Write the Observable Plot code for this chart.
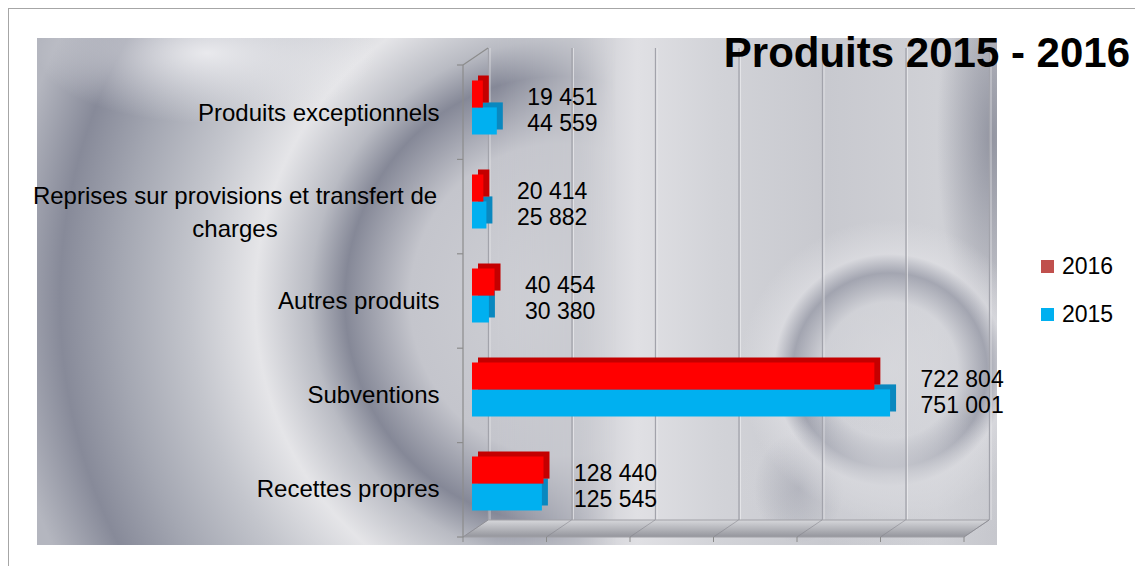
<!DOCTYPE html>
<html>
<head>
<meta charset="utf-8">
<script src="https://cdn.jsdelivr.net/npm/d3@7"></script>
<script src="https://cdn.jsdelivr.net/npm/@observablehq/plot@0.6"></script>
<style>
  body { margin: 0; background: #fff; }
  #wrap { position: relative; width: 1135px; height: 566px; overflow: hidden; font-family: "Liberation Sans", Arial, sans-serif; }
  #frameTop { position: absolute; left: 8px; top: 8px; width: 1127px; height: 1px; background: #a6a6a6; }
  #frameLeft { position: absolute; left: 8px; top: 8px; width: 1px; height: 558px; background: #a6a6a6; }
  .bg { position: absolute; left: 37px; top: 38px; width: 960px; height: 507px; }
  #bgRight {
    background:
      radial-gradient(ellipse 160px 70px at 853px 440px, rgba(212,213,218,0.75) 0%, rgba(212,213,218,0) 100%),
      radial-gradient(circle at 853px 332px, rgba(222,222,226,0.55) 0px, rgba(216,217,222,0.45) 68px, rgba(138,141,156,0.62) 97px, rgba(228,228,232,0.55) 116px, rgba(208,209,214,0) 150px),
      radial-gradient(ellipse 55px 190px at 955px 100px, rgba(125,128,143,0.7) 0%, rgba(125,128,143,0) 100%),
      radial-gradient(ellipse 45px 55px at 762px 450px, rgba(130,133,148,0.5) 0%, rgba(130,133,148,0) 100%),
      linear-gradient(to right, #c9cad0 0px, #c9cad0 540px, #e0e0e4 600px, #d2d3d8 680px, #c8c9cf 790px, #d0d1d6 900px, #c6c7cd 960px);
  }
  #bgLeft {
    background:
      radial-gradient(ellipse 170px 70px at 170px 15px, rgba(240,240,243,0.9) 0%, rgba(240,240,243,0) 100%),
      radial-gradient(ellipse 500px 520px at 523px 262px, #d0d1d6 0%, #c4c5cc 30%, #858897 43%, #b9bbc3 50%, #e5e5e8 61%, #c3c5cc 74%, #a4a7b2 88%, #878a99 100%, #b4b6bf 112%);
    -webkit-mask-image: linear-gradient(to right, #000 0px, #000 460px, transparent 580px);
    mask-image: linear-gradient(to right, #000 0px, #000 460px, transparent 580px);
  }
  #chart { position: absolute; left: 0; top: 0; }
  #title { position: absolute; right: 5px; top: 32px; font-weight: bold; font-size: 42px; line-height: 42px; color: #000; white-space: nowrap; }
  #legend { position: absolute; left: 1041px; top: 252px; font-size: 23px; color: #000; }
  .item { display: flex; align-items: center; height: 28px; margin-bottom: 20px; }
  .sw { width: 13px; height: 13px; margin-right: 8px; }
</style>
</head>
<body>
<div id="wrap">
  <div id="frameTop"></div>
  <div id="frameLeft"></div>
  <div id="bgRight" class="bg"></div>
  <div id="bgLeft" class="bg"></div>
  <div id="chart"></div>
  <div id="title">Produits 2015 - 2016</div>
  <div id="legend"></div>
</div>
<script>
// ---- data ----
const categories = ["Produits exceptionnels", "Reprises sur provisions et transfert de charges", "Autres produits", "Subventions", "Recettes propres"];
const categoryLabels = ["Produits exceptionnels", "Reprises sur provisions et transfert de\ncharges", "Autres produits", "Subventions", "Recettes propres"];
const values2016 = [19451, 20414, 40454, 722804, 128440];
const values2015 = [44559, 25882, 30380, 751001, 125545];
const seriesNames = ["2016", "2015"];
const seriesColors = ["#ff0000", "#00b0f0"];
const legendColors = ["#c0504d", "#00b0f0"];
const sideColors = ["#c40000", "#0a88bf"];
const xTicks = [0, 150000, 300000, 450000, 600000, 750000, 900000];

const rows2016 = categories.map((c, i) => ({category: c, value: values2016[i], labelX: Math.max(values2016[i], values2015[i])}));
const rows2015 = categories.map((c, i) => ({category: c, value: values2015[i], labelX: Math.max(values2016[i], values2015[i])}));
const labelRows = categories.map((c, i) => ({category: c, label: categoryLabels[i]}));
const fmt = v => d3.format(",")(v).replace(/,/g, " ");

const front = -9, back = 16, up = -17;

function frame3d(index, scales, values, dimensions) {
  const {height, marginTop, marginBottom} = dimensions;
  const x0 = scales.x(xTicks[0]), x1 = scales.x(xTicks[xTicks.length - 1]);
  const yb = height - marginBottom;
  const g = d3.create("svg:g");
  const defs = g.append("defs");
  const lg = defs.append("linearGradient").attr("id", "floorGrad").attr("x1", 0).attr("y1", 1).attr("x2", 0).attr("y2", 0);
  lg.append("stop").attr("offset", "0%").attr("stop-color", "#94959c");
  lg.append("stop").attr("offset", "100%").attr("stop-color", "#d6d7db");
  g.append("polygon")
    .attr("points", [[x0 + front, yb], [x1 + front, yb], [x1 + back, yb + up], [x0 + back, yb + up]].map(p => p.join(",")).join(" "))
    .attr("fill", "url(#floorGrad)").attr("stroke", "#a0a0a6").attr("stroke-width", 1);
  for (const t of xTicks) {
    const xf = scales.x(t);
    g.append("line").attr("x1", xf + front).attr("y1", yb).attr("x2", xf + back).attr("y2", yb + up)
      .attr("stroke", "#7d7e86").attr("stroke-opacity", 0.5);
    g.append("line").attr("x1", xf + front).attr("y1", yb).attr("x2", xf + front).attr("y2", yb + 5)
      .attr("stroke", "#8a8a8a");
  }
  g.append("line").attr("x1", x0 + front).attr("y1", marginTop).attr("x2", x0 + front).attr("y2", yb)
    .attr("stroke", "#8c8c8c").attr("stroke-width", 1.2);
  g.append("line").attr("x1", x0 + front).attr("y1", marginTop).attr("x2", x0 + back).attr("y2", marginTop + up)
    .attr("stroke", "#8c8c8c").attr("stroke-width", 1.2);
  const n = categories.length;
  for (let i = 0; i <= n; i++) {
    const y = marginTop + i * (yb - marginTop) / n;
    g.append("line").attr("x1", x0 + front - 6).attr("y1", y).attr("x2", x0 + front).attr("y2", y)
      .attr("stroke", "#8c8c8c").attr("stroke-width", 1.2);
  }
  return g.node();
}

const plot = Plot.plot({
  width: 1135,
  height: 566,
  marginLeft: 472,
  marginRight: 162,
  marginTop: 65,
  marginBottom: 29,
  style: {background: "transparent", fontFamily: "'Liberation Sans', Arial, sans-serif"},
  x: {domain: [0, 900000], axis: null},
  y: {domain: categories, axis: null, paddingInner: 0.43, paddingOuter: 0.215},
  marks: [
    Plot.ruleX(xTicks, {dx: back, dy: up, stroke: "#a2a3ab", strokeWidth: 1.3}),
    Plot.ruleX(xTicks, {dx: back + 1.5, dy: up, stroke: "#f2f2f4", strokeOpacity: 0.6, strokeWidth: 1}),
    frame3d,
    Plot.barX(rows2015, {y: "category", x: "value", fill: sideColors[1], insetTop: 26.9, dx: 6, dy: -10.5}),
    Plot.barX(rows2015, {y: "category", x: "value", fill: seriesColors[1], insetTop: 26.9, dy: -5.5}),
    Plot.barX(rows2016, {y: "category", x: "value", fill: sideColors[0], insetBottom: 26.9, dx: 6, dy: -10.5}),
    Plot.barX(rows2016, {y: "category", x: "value", fill: seriesColors[0], insetBottom: 26.9, dy: -5.5}),
    Plot.text(rows2016, {y: "category", x: "labelX", text: d => fmt(d.value), dx: 30, dy: -16, textAnchor: "start", fontSize: 23, fill: "#000"}),
    Plot.text(rows2015, {y: "category", x: "labelX", text: d => fmt(d.value), dx: 30, dy: 10.5, textAnchor: "start", fontSize: 23, fill: "#000"}),
    Plot.text(labelRows.filter(d => !d.label.includes("\n")), {y: "category", text: "label", frameAnchor: "left", dx: -33, textAnchor: "end", fontSize: 24, fill: "#000"}),
    Plot.text(labelRows.filter(d => d.label.includes("\n")), {y: "category", text: "label", frameAnchor: "left", dx: -237.5, dy: 2, textAnchor: "middle", lineHeight: 1.375, fontSize: 24, fill: "#000"})
  ]
});
document.getElementById("chart").appendChild(plot);

const legend = document.getElementById("legend");
seriesNames.forEach((s, i) => {
  const item = document.createElement("div");
  item.className = "item";
  item.innerHTML = `<span class="sw" style="background:${legendColors[i]}"></span><span>${s}</span>`;
  legend.appendChild(item);
});
</script>
</body>
</html>
